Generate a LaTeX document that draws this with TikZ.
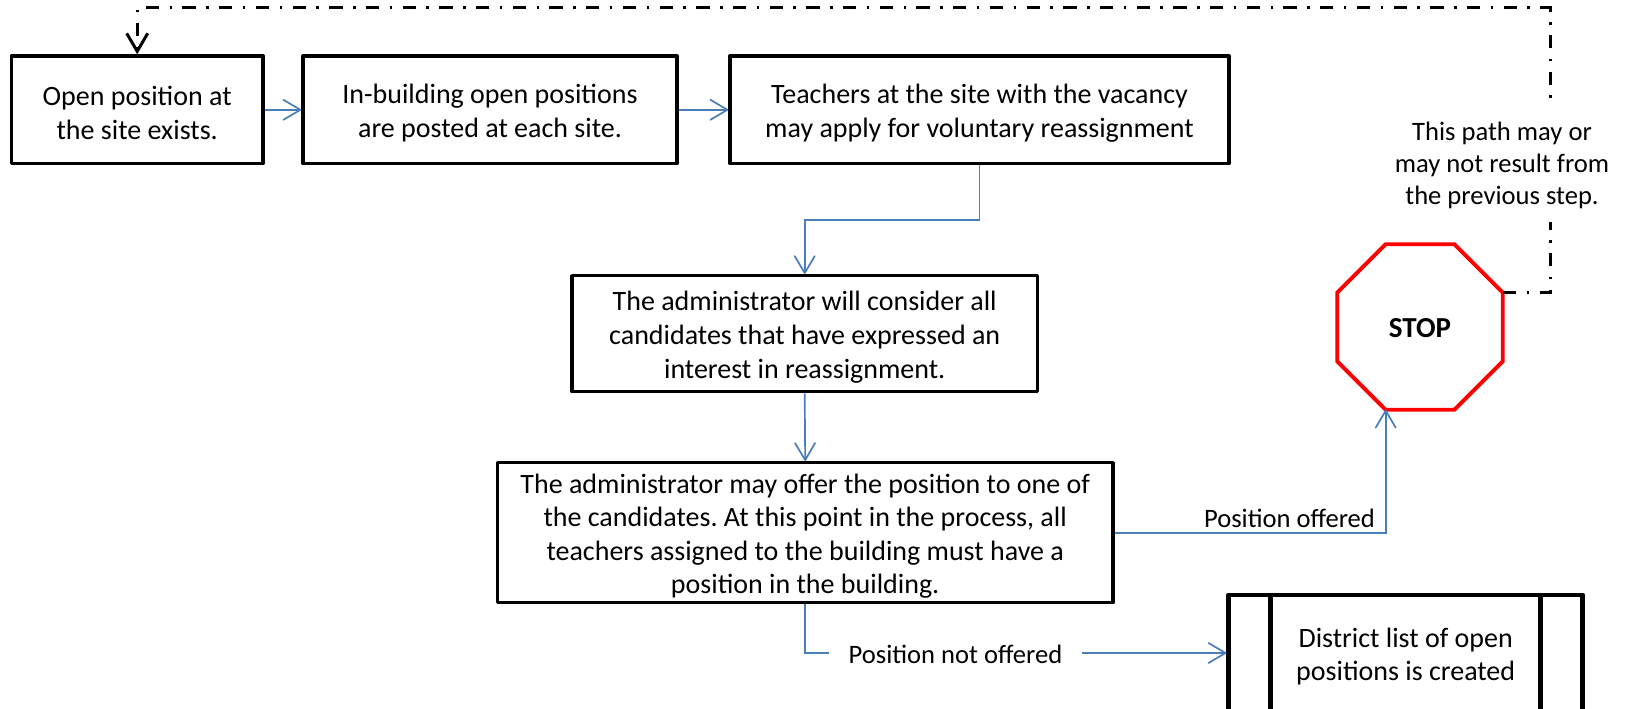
\documentclass[tikz,border=0pt]{standalone}
\usepackage{fontspec}
\setmainfont{Carlito}
\usetikzlibrary{arrows.meta,shapes.geometric,calc}
\definecolor{flowblue}{HTML}{4A7EBB}
\newcommand\firstln{\rule{0pt}{26pt}}
\tikzset{
  x=1pt,y=-1pt,
  txt/.style={font=\frenchspacing\fontsize{26.6}{33.5}\selectfont,align=center,text=black,inner sep=0pt},
  stepbox/.style={txt,font=\frenchspacing\fontsize{28}{33.5}\selectfont,draw=black,line width=3.5pt,line join=round,fill=white},
  listbox/.style={stepbox,line width=4.7pt},
  stopsign/.style={regular polygon,regular polygon sides=8,draw=red,line width=3.8pt,fill=white,minimum size=179.3pt,inner sep=0pt,outer sep=0pt,font=\fontsize{29}{33.5}\selectfont\bfseries,text=black,execute at begin node={\rule{0pt}{21pt}}},
  flow/.style={draw=flowblue,line width=1.7pt},
  flowarrow/.style={flow,-{Straight Barb[length=17pt,width=20pt,line width=1.7pt,round]}},
  loopline/.style={draw=black,line width=3pt},
  loopdash/.style={loopline,dash pattern=on 13.3pt off 10.5pt on 2.5pt off 10.4pt},
  loopdot/.style={loopline,dash pattern=on 2.5pt off 10.5pt on 13.3pt off 10.4pt},
  looparrow/.style={-{Straight Barb[length=18pt,width=21pt,line width=3pt]}},
}
\begin{document}
\begin{tikzpicture}
\clip (0,0) rectangle (1626,709);
\fill[white] (0,0) rectangle (1626,709);
\node[stepbox,minimum width=251.6pt,minimum height=107.5pt] (b1) at (137.2,109.8) {\firstln Open position at\\the site exists.};
\node[stepbox,minimum width=374pt,minimum height=107.5pt] (b2) at (490,109.8) {\firstln In-building open positions\\are posted at each site.};
\node[stepbox,minimum width=499pt,minimum height=107.5pt] (b3) at (979.5,109.8) {\firstln Teachers at the site with the vacancy\\may apply for voluntary reassignment};
\node[stepbox,font=\frenchspacing\fontsize{28}{34.2}\selectfont,minimum width=465.5pt,minimum height=116pt] (b4) at (804.7,333.7) {\firstln The administrator will consider all\\candidates that have expressed an\\interest in reassignment.};
\node[stepbox,minimum width=615.5pt,minimum height=140pt] (b5) at (805.2,532.7) {\firstln The administrator may offer the position to one of\\the candidates. At this point in the process, all\\teachers assigned to the building must have a\\position in the building.};
\node[listbox,minimum width=354pt,minimum height=116pt] (d) at (1405.7,653) {\firstln District list of open\\positions is created};
\draw[line width=4.7pt] ([xshift=44.3pt]d.north west) -- ([xshift=44.3pt]d.south west);
\draw[line width=4.7pt] ([xshift=-44.7pt]d.north east) -- ([xshift=-44.7pt]d.south east);
\node[stopsign] (stop) at (1420,327) {STOP};
\node[txt,font=\frenchspacing\fontsize{26.6}{32}\selectfont] (note) at (1502,165.5) {This path may or\\may not result from\\the previous step.};
\node[txt,fill=white,inner xsep=19.5pt,inner ysep=4pt] (pno) at (955.5,654) {Position not offered};
\node[txt] (po) at (1289.5,518.5) {Position offered};
\coordinate (noteS) at (1550,222);
\coordinate (noteN) at (1550,98);
\coordinate (ne) at (1550,8);
\coordinate (nw) at (b1.north |- ne);
\coordinate (pnoL) at (pno.west |- d.west);
\coordinate (pnoR) at (pno.east |- d.west);
\draw[flowarrow] (b1.east) -- (b2.west);
\draw[flowarrow] (b2.east) -- (b3.west);
\draw[flowarrow] (b3.south) -- ++(0,54.5) -| (b4.north);
\draw[flowarrow] (b4.south) -- (b5.north);
\draw[flowarrow] (b5.east) -| (stop.corner 5);
\draw[flow] (b5.south) |- (pnoL);
\draw[flowarrow] (pnoR) -- (d.west);
\draw[loopdash] (stop.corner 8) -| (noteS);
\draw[loopdot,looparrow] (noteN) -- (ne) -- (nw) -- (b1.north);
\end{tikzpicture}
\end{document}
